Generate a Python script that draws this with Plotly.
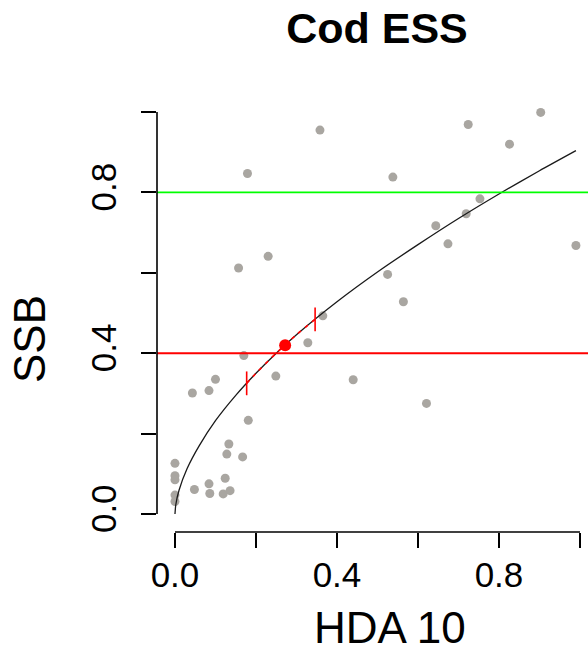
import plotly.graph_objects as go

# ---- data ----
hda_x = [0.358, 0.179, 0.157, 0.230, 0.903, 0.724, 0.826, 0.538, 0.753, 0.719,
         0.644, 0.674, 0.990, 0.525, 0.564, 0.365, 0.328, 0.170, 0.249, 0.440,
         0.100, 0.043, 0.084, 0.181, 0.133, 0.128, 0.167, 0.000, 0.000, 0.000,
         0.048, 0.084, 0.086, 0.124, 0.119, 0.136, 0.000, 0.000, 0.621]
ssb_y = [0.955, 0.847, 0.612, 0.641, 0.999, 0.969, 0.920, 0.838, 0.784, 0.747,
         0.717, 0.672, 0.668, 0.596, 0.528, 0.493, 0.426, 0.394, 0.343, 0.334,
         0.335, 0.301, 0.307, 0.233, 0.174, 0.149, 0.142, 0.126, 0.095, 0.085,
         0.061, 0.075, 0.051, 0.089, 0.050, 0.058, 0.047, 0.031, 0.275]

fit_x = [0.0, 0.002, 0.01, 0.03, 0.06, 0.10, 0.15, 0.20, 0.25, 0.30, 0.40,
         0.50, 0.60, 0.70, 0.80, 0.90, 0.99]
fit_y = [0.0, 0.023, 0.059, 0.113, 0.170, 0.232, 0.295, 0.350, 0.400, 0.446,
         0.528, 0.602, 0.670, 0.735, 0.796, 0.854, 0.904]

ci_x = [0.177, 0.20, 0.25, 0.30, 0.346]
ci_y = [0.325, 0.350, 0.400, 0.446, 0.484]
ci_end_x = [0.177, 0.346]
ci_end_y = [0.325, 0.484]

ess_x = [0.272]
ess_y = [0.420]

green_level = 0.8
red_level = 0.4

x_ticks = [0.0, 0.2, 0.4, 0.6, 0.8, 1.0]
x_tick_text = ["0.0", "", "0.4", "", "0.8", ""]
y_ticks = [0.0, 0.2, 0.4, 0.6, 0.8, 1.0]
y_tick_text = ["0.0", "", "0.4", "", "0.8", ""]

FONT = "Liberation Sans, Arial, sans-serif"

fig = go.Figure()

fig.add_trace(go.Scatter(x=hda_x, y=ssb_y, mode="markers",
                         marker=dict(color="#a9a6a1", size=9, line=dict(width=0)),
                         showlegend=False, hoverinfo="skip"))
fig.add_trace(go.Scatter(x=fit_x, y=fit_y, mode="lines",
                         line=dict(color="#1a1a1a", width=1.3, shape="spline", smoothing=0.6),
                         showlegend=False, hoverinfo="skip"))
fig.add_trace(go.Scatter(x=ci_x, y=ci_y, mode="lines",
                         line=dict(color="red", width=1.6, dash="4px,5px", shape="spline"),
                         showlegend=False, hoverinfo="skip"))
fig.add_trace(go.Scatter(x=ci_end_x, y=ci_end_y, mode="markers",
                         marker=dict(symbol="line-ns", size=17, color="red",
                                     line=dict(color="red", width=1.6)),
                         showlegend=False, hoverinfo="skip"))
fig.add_trace(go.Scatter(x=ess_x, y=ess_y, mode="markers",
                         marker=dict(color="red", size=12, line=dict(width=0)),
                         showlegend=False, hoverinfo="skip"))

# reference lines
fig.add_hline(y=green_level, line=dict(color="#00ff00", width=1.6))
fig.add_hline(y=red_level, line=dict(color="#ff0000", width=2))

# axis lines spanning first to last tick (R style)
fig.add_shape(type="line", xref="x", yref="paper", x0=x_ticks[0], x1=x_ticks[-1],
              y0=0, y1=0, line=dict(color="black", width=1.6))
fig.add_shape(type="line", xref="paper", yref="y", x0=0, x1=0,
              y0=y_ticks[0], y1=y_ticks[-1], line=dict(color="black", width=1.6))

W, H = 588, 652
L, R, T, B = 157, 0, 96, 120
PW, PH = W - L - R, H - T - B

fig.update_layout(
    width=W, height=H,
    margin=dict(l=L, r=R, t=T, b=B, pad=0),
    paper_bgcolor="white", plot_bgcolor="white",
    font=dict(family=FONT, color="black"),
    title=dict(text="<b>Cod ESS</b>", xref="paper", x=(377 - L) / PW, xanchor="center",
               yref="container", y=1 - 28 / H, yanchor="middle",
               font=dict(size=43, family=FONT)),
    xaxis=dict(range=[-0.0444, 1.0198], tickvals=x_ticks, ticktext=x_tick_text,
               ticks="outside", ticklen=15, tickwidth=1.6, tickcolor="black",
               showgrid=False, zeroline=False, showline=False,
               tickfont=dict(size=35, family=FONT), ticklabelstandoff=-3),
    yaxis=dict(range=[-0.0448, 1.0398], tickvals=y_ticks, ticktext=y_tick_text,
               ticks="outside", ticklen=15, tickwidth=1.6, tickcolor="black",
               showgrid=False, zeroline=False, showline=False, tickangle=-90,
               tickfont=dict(size=35, family=FONT), ticklabelstandoff=11),
    annotations=[
        dict(text="HDA 10", xref="paper", yref="paper",
             x=(390 - L) / PW, y=-(627 - (H - B)) / PH,
             xanchor="center", yanchor="middle", showarrow=False,
             font=dict(size=44, family=FONT)),
        dict(text="SSB", xref="paper", yref="paper", textangle=-90,
             x=-(L - 29) / PW, y=(H - B - 339) / PH,
             xanchor="center", yanchor="middle", showarrow=False,
             font=dict(size=44, family=FONT)),
    ],
)

# remove the default 8px page margin so the figure fills the window exactly
fig.write_html("out.html",
               config={"displayModeBar": False},
               post_script="document.body.style.margin='0px';document.body.style.overflow='hidden';")
